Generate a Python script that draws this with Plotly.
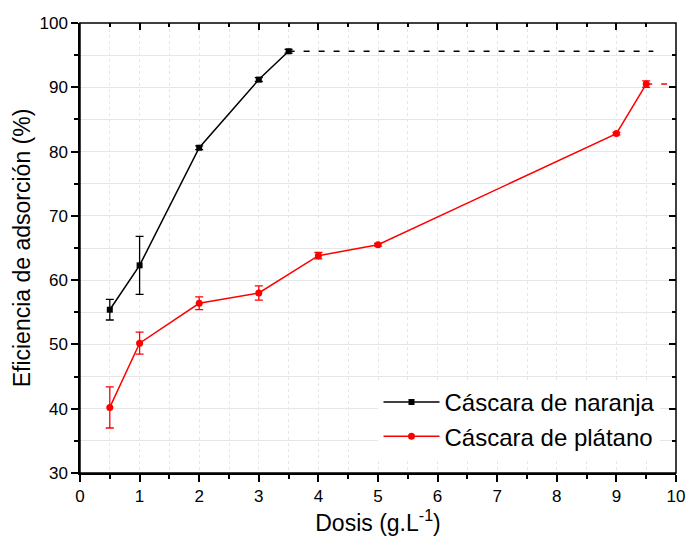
import plotly.graph_objects as go

# Data
dose_orange = [0.5, 1, 2, 3, 3.5]
eff_orange = [55.4, 62.3, 80.6, 91.2, 95.6]
err_orange = [1.6, 4.5, 0.3, 0.3, 0.3]

dose_banana = [0.5, 1, 2, 3, 4, 5, 9, 9.5]
eff_banana = [40.2, 50.2, 56.4, 58.0, 63.8, 65.5, 82.8, 90.5]
err_banana = [3.2, 1.7, 1.0, 1.1, 0.5, 0.2, 0.2, 0.5]

plateau_orange_x = [3.5, 9.62]
plateau_orange_y = [95.6, 95.6]
plateau_banana_x = [9.5, 9.85]
plateau_banana_y = [90.5, 90.5]

FONT = "Liberation Sans, Arial, sans-serif"

fig = go.Figure()

fig.add_trace(go.Scatter(
    x=plateau_orange_x, y=plateau_orange_y, mode="lines",
    line=dict(color="black", width=1.5, dash="6px,9px"),
    showlegend=False, hoverinfo="skip"))
fig.add_trace(go.Scatter(
    x=plateau_banana_x, y=plateau_banana_y, mode="lines",
    line=dict(color="red", width=1.5, dash="6px,9px"),
    showlegend=False, hoverinfo="skip"))

fig.add_trace(go.Scatter(
    x=dose_orange, y=eff_orange, mode="lines+markers",
    name="Cáscara de naranja",
    line=dict(color="black", width=1.5),
    marker=dict(symbol="square", size=6, color="black"),
    error_y=dict(type="data", array=err_orange, color="black", thickness=1.3, width=4)))
fig.add_trace(go.Scatter(
    x=dose_banana, y=eff_banana, mode="lines+markers",
    name="Cáscara de plátano",
    line=dict(color="red", width=1.5),
    marker=dict(symbol="circle", size=7, color="red"),
    error_y=dict(type="data", array=err_banana, color="red", thickness=1.3, width=4)))

# dummy trace for mirrored axes
fig.add_trace(go.Scatter(x=[None], y=[None], xaxis="x2", yaxis="y2",
                         showlegend=False, hoverinfo="skip"))

gridc = "#e6e6e6"
fig.update_layout(
    width=696, height=540,
    margin=dict(l=80, r=11, t=23, b=67),
    paper_bgcolor="white", plot_bgcolor="white",
    font=dict(family=FONT, color="black"),
    xaxis=dict(
        range=[0, 10], dtick=1, tick0=0,
        ticks="outside", ticklen=7, tickwidth=1.5, tickcolor="black",
        showline=True, linewidth=1.5, linecolor="black",
        showgrid=True, gridcolor=gridc, gridwidth=1, griddash="dot",
        zeroline=False,
        tickfont=dict(size=17),
        title=dict(text="Dosis (g.L<sup>-1</sup>)", font=dict(size=23), standoff=7),
        minor=dict(dtick=0.5, ticks="outside", ticklen=4, tickwidth=1.5,
                   tickcolor="black", showgrid=True, gridcolor=gridc, griddash="dot"),
    ),
    yaxis=dict(
        range=[30, 100], dtick=10, tick0=0,
        ticks="outside", ticklen=7, tickwidth=1.5, tickcolor="black",
        showline=True, linewidth=1.5, linecolor="black",
        showgrid=True, gridcolor=gridc, gridwidth=1,
        zeroline=False,
        tickfont=dict(size=17),
        title=dict(text="Eficiencia de adsorción (%)", font=dict(size=23), standoff=2),
        minor=dict(dtick=5, ticks="outside", ticklen=4, tickwidth=1.5,
                   tickcolor="black", showgrid=True, gridcolor=gridc),
    ),
    xaxis2=dict(
        range=[0, 10], dtick=1, overlaying="x", side="top", anchor="y2",
        ticks="inside", ticklen=7, tickwidth=1.5, tickcolor="black",
        showline=False,
        showticklabels=False, showgrid=False, zeroline=False,
        minor=dict(dtick=0.5, ticks="inside", ticklen=4, tickwidth=1.5, tickcolor="black"),
    ),
    yaxis2=dict(
        range=[30, 100], dtick=10, overlaying="y", side="right", anchor="x2",
        ticks="inside", ticklen=7, tickwidth=1.5, tickcolor="black",
        showline=False,
        showticklabels=False, showgrid=False, zeroline=False,
        minor=dict(dtick=5, ticks="inside", ticklen=4, tickwidth=1.5, tickcolor="black"),
    ),
    legend=dict(
        x=(383 - 80) / 605, y=(473 - 380) / 450, xanchor="left", yanchor="top",
        bgcolor="white", borderwidth=0,
        font=dict(size=24), tracegroupgap=0, itemwidth=56,
    ),
    showlegend=True,
    shapes=[dict(type="rect", xref="paper", yref="paper", x0=0, x1=1, y0=0, y1=1,
                 line=dict(color="black", width=1.5), fillcolor="rgba(0,0,0,0)",
                 layer="above")],
)

fig.write_html("out.html")
